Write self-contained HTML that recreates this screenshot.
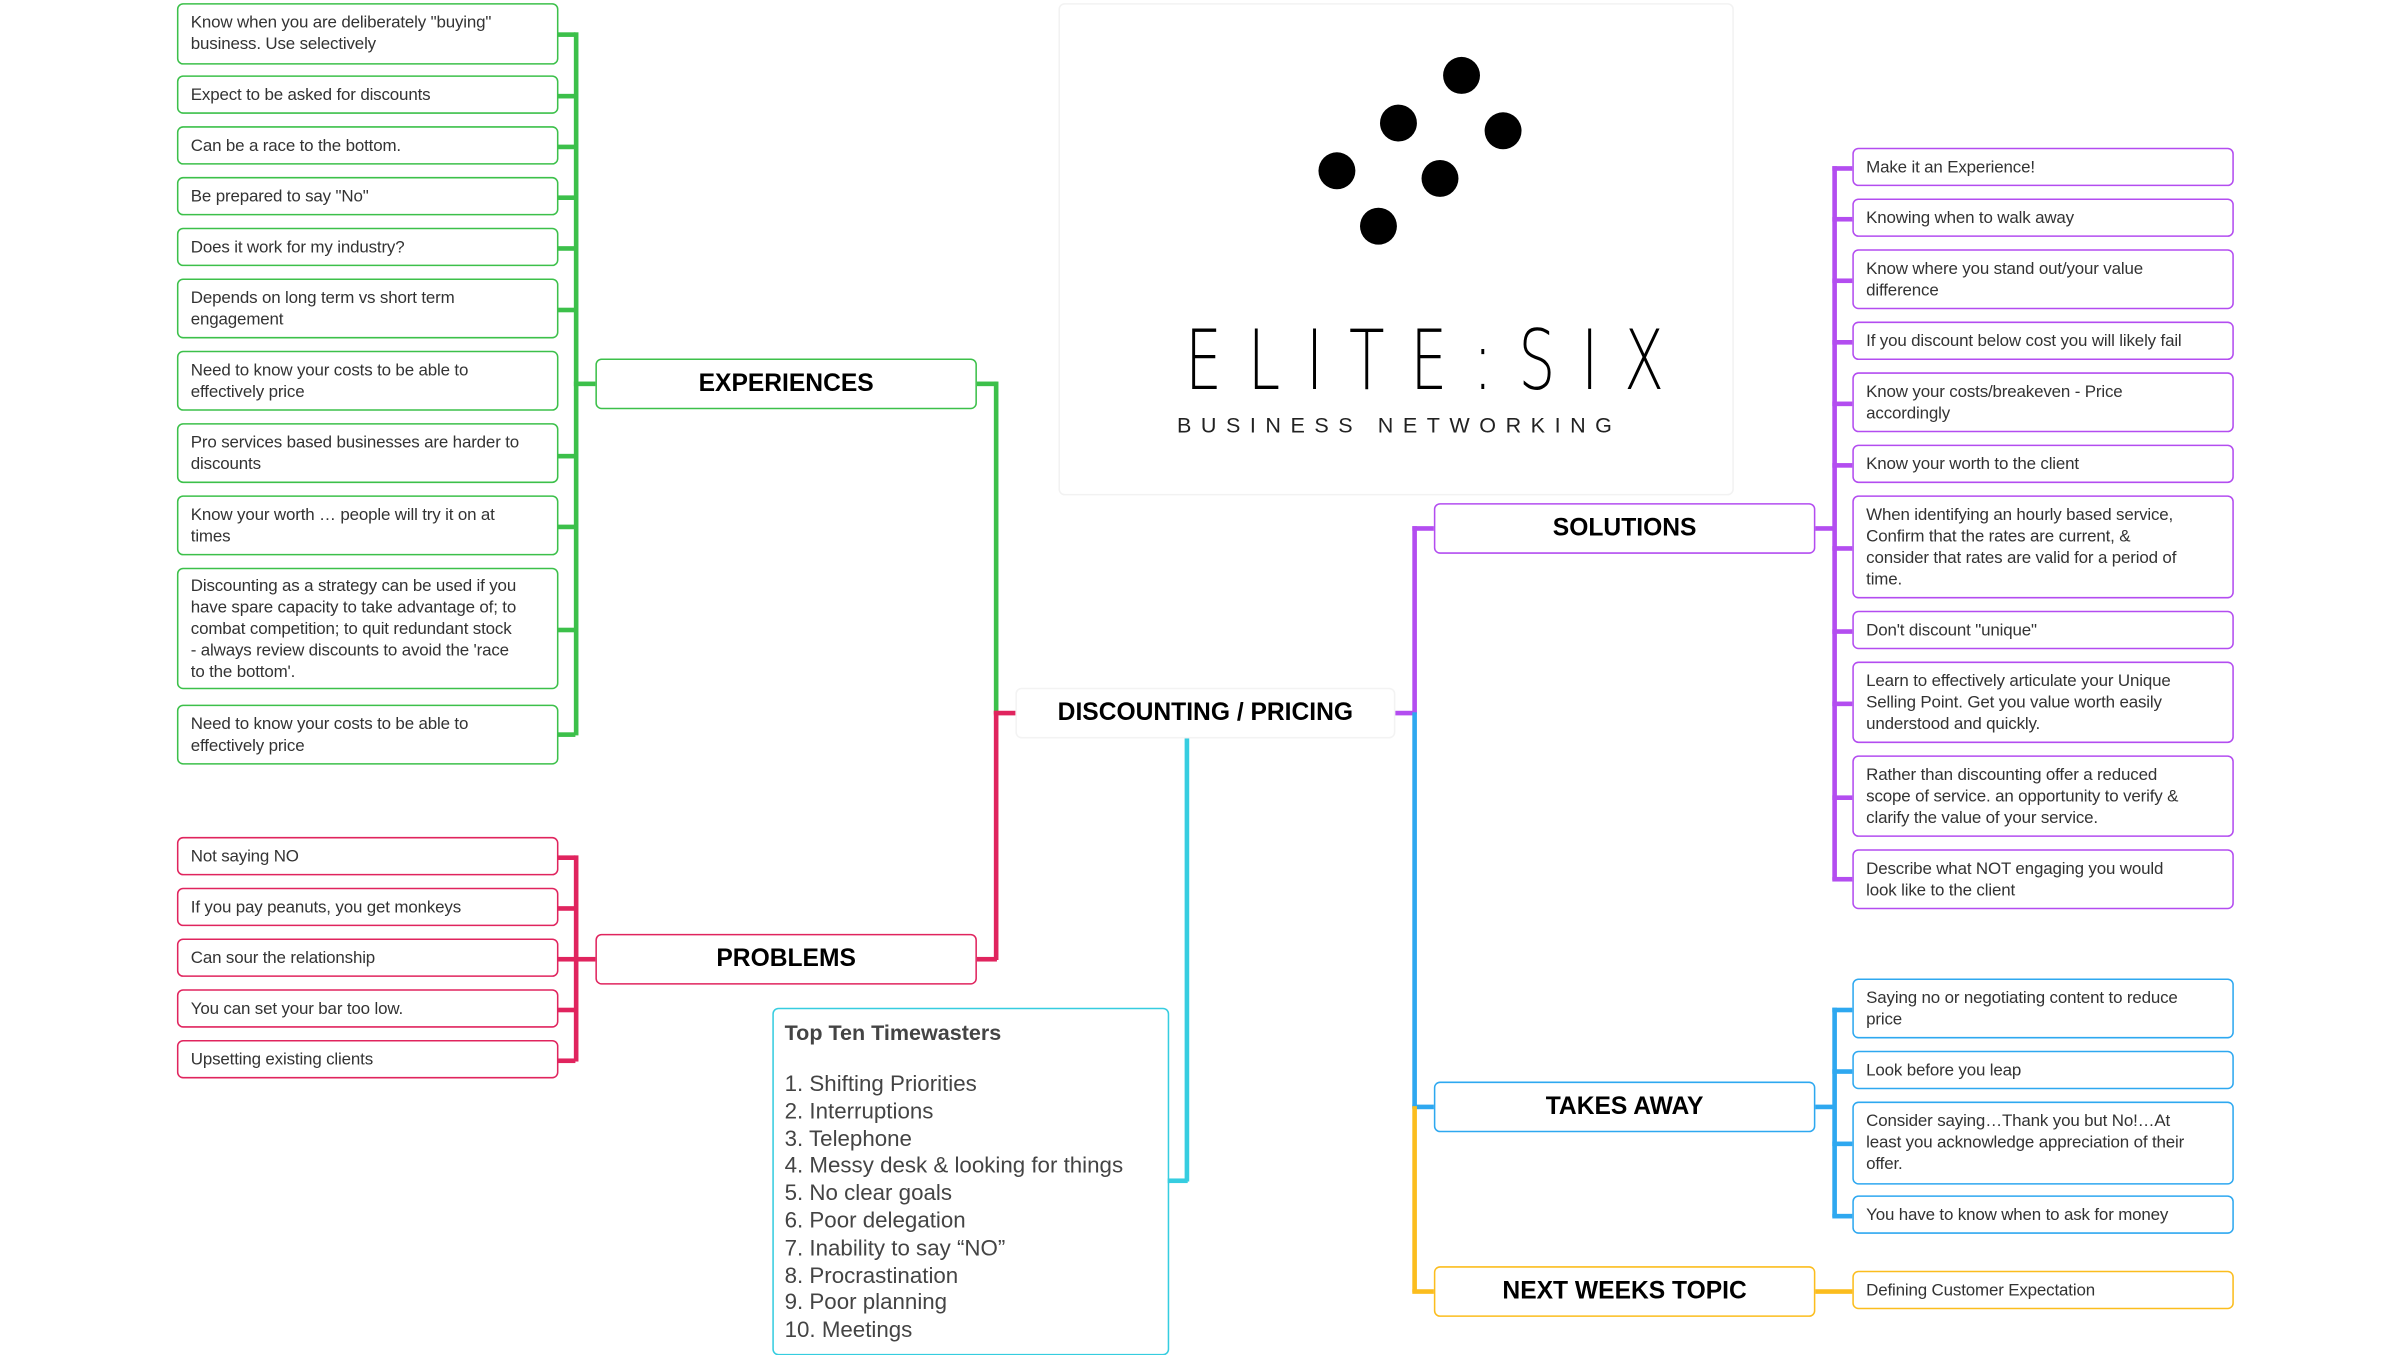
<!DOCTYPE html>
<html><head><meta charset="utf-8"><style>
html,body{margin:0;padding:0;background:#fff;}
body{width:2400px;height:1350px;overflow:hidden;position:relative;}
#c{position:absolute;left:0;top:0;width:1560px;height:878px;transform:scale(1.53846);transform-origin:0 0;font-family:"Liberation Sans",Arial,sans-serif;}
.b{position:absolute;box-sizing:border-box;border:1.5px solid;border-radius:4px;background:#fff;color:#333;font-size:11px;line-height:14px;padding:0 0 0 8px;display:flex;align-items:center;white-space:nowrap;letter-spacing:-0.1px;}
.h{position:absolute;box-sizing:border-box;border:1.5px solid;border-radius:4px;background:#fff;color:#000;font-weight:bold;font-size:16px;display:flex;align-items:center;justify-content:center;white-space:nowrap;}
.l{position:absolute;}
.g{border-color:#3cc04a}.r{border-color:#e0245e}.p{border-color:#b34df0}.bl{border-color:#2ea8f0}.y{border-color:#fbbd1e}.cy{border-color:#36cde0}
.dot{position:absolute;width:24px;height:24px;border-radius:50%;background:#000;}
</style></head><body><div id="c">

<!-- logo -->
<div style="position:absolute;left:688px;top:2px;width:437px;height:318px;border:1px solid #f2f2f2;border-radius:4px;"></div>
<div class="dot" style="left:938px;top:37px"></div>
<div class="dot" style="left:897px;top:68px"></div>
<div class="dot" style="left:965px;top:73px"></div>
<div class="dot" style="left:857px;top:99px"></div>
<div class="dot" style="left:924px;top:104px"></div>
<div class="dot" style="left:884px;top:135px"></div>
<div style="position:absolute;left:688px;width:437px;top:206px;text-align:center;font-size:54px;letter-spacing:24px;color:#000;line-height:58px;transform:scaleX(0.7);transform-origin:center;font-family:'DejaVu Sans','Liberation Sans',sans-serif;font-weight:200;padding-left:24px;box-sizing:border-box;white-space:nowrap;">ELITE:SIX</div>
<div style="position:absolute;left:688px;width:437px;top:268px;text-align:center;font-size:14px;letter-spacing:6.2px;color:#222;padding-left:6px;box-sizing:border-box;">BUSINESS NETWORKING</div>

<!-- center -->
<div class="h" style="left:660px;top:447px;width:247px;height:33px;border-color:#f3f3f3;">DISCOUNTING / PRICING</div>

<!-- experiences connectors -->
<div class="l" style="left:646px;top:248px;width:2.5px;height:216px;background:#3cc04a"></div>
<div class="l" style="left:635px;top:248px;width:13px;height:2.5px;background:#3cc04a"></div>
<div class="l" style="left:646px;top:462px;width:14px;height:2.5px;background:#e0245e"></div>
<div class="l" style="left:646px;top:462px;width:2.5px;height:162px;background:#e0245e"></div>
<div class="l" style="left:635px;top:622px;width:13px;height:2.5px;background:#e0245e"></div>
<div class="h g" style="left:387px;top:233px;width:248px;height:33px;">EXPERIENCES</div>
<div class="h r" style="left:387px;top:607px;width:248px;height:33px;">PROBLEMS</div>

<div class="l" style="left:373px;top:21px;width:2.5px;height:457px;background:#3cc04a"></div>
<div class="l" style="left:373px;top:248px;width:14px;height:2.5px;background:#3cc04a"></div>
<div class="l" style="left:362px;top:21px;width:12px;height:2.5px;background:#3cc04a"></div>
<div class="l" style="left:362px;top:61px;width:12px;height:2.5px;background:#3cc04a"></div>
<div class="l" style="left:362px;top:94px;width:12px;height:2.5px;background:#3cc04a"></div>
<div class="l" style="left:362px;top:127px;width:12px;height:2.5px;background:#3cc04a"></div>
<div class="l" style="left:362px;top:160px;width:12px;height:2.5px;background:#3cc04a"></div>
<div class="l" style="left:362px;top:200px;width:12px;height:2.5px;background:#3cc04a"></div>
<div class="l" style="left:362px;top:295px;width:12px;height:2.5px;background:#3cc04a"></div>
<div class="l" style="left:362px;top:341px;width:12px;height:2.5px;background:#3cc04a"></div>
<div class="l" style="left:362px;top:408px;width:12px;height:2.5px;background:#3cc04a"></div>
<div class="l" style="left:362px;top:476px;width:12px;height:2.5px;background:#3cc04a"></div>

<div class="b g" style="left:115px;top:2px;width:248px;height:40px;">Know when you are deliberately "buying"<br>business. Use selectively</div>
<div class="b g" style="left:115px;top:49px;width:248px;height:25px;">Expect to be asked for discounts</div>
<div class="b g" style="left:115px;top:82px;width:248px;height:25px;">Can be a race to the bottom.</div>
<div class="b g" style="left:115px;top:115px;width:248px;height:25px;">Be prepared to say "No"</div>
<div class="b g" style="left:115px;top:148px;width:248px;height:25px;">Does it work for my industry?</div>
<div class="b g" style="left:115px;top:181px;width:248px;height:39px;">Depends on long term vs short term<br>engagement</div>
<div class="b g" style="left:115px;top:228px;width:248px;height:39px;">Need to know your costs to be able to<br>effectively price</div>
<div class="b g" style="left:115px;top:275px;width:248px;height:39px;">Pro services based businesses are harder to<br>discounts</div>
<div class="b g" style="left:115px;top:322px;width:248px;height:39px;">Know your worth … people will try it on at<br>times</div>
<div class="b g" style="left:115px;top:369px;width:248px;height:79px;">Discounting as a strategy can be used if you<br>have spare capacity to take advantage of; to<br>combat competition; to quit redundant stock<br>- always review discounts to avoid the 'race<br>to the bottom'.</div>
<div class="b g" style="left:115px;top:458px;width:248px;height:39px;">Need to know your costs to be able to<br>effectively price</div>

<!-- problems -->
<div class="l" style="left:373px;top:556px;width:2.5px;height:134px;background:#e0245e"></div>
<div class="l" style="left:373px;top:622px;width:14px;height:2.5px;background:#e0245e"></div>
<div class="l" style="left:362px;top:556px;width:12px;height:2.5px;background:#e0245e"></div>
<div class="l" style="left:362px;top:589px;width:12px;height:2.5px;background:#e0245e"></div>
<div class="l" style="left:362px;top:622px;width:12px;height:2.5px;background:#e0245e"></div>
<div class="l" style="left:362px;top:655px;width:12px;height:2.5px;background:#e0245e"></div>
<div class="l" style="left:362px;top:688px;width:12px;height:2.5px;background:#e0245e"></div>
<div class="b r" style="left:115px;top:544px;width:248px;height:25px;">Not saying NO</div>
<div class="b r" style="left:115px;top:577px;width:248px;height:25px;">If you pay peanuts, you get monkeys</div>
<div class="b r" style="left:115px;top:610px;width:248px;height:25px;">Can sour the relationship</div>
<div class="b r" style="left:115px;top:643px;width:248px;height:25px;">You can set your bar too low.</div>
<div class="b r" style="left:115px;top:676px;width:248px;height:25px;">Upsetting existing clients</div>

<!-- top ten -->
<div class="l" style="left:770px;top:480px;width:2.5px;height:288px;background:#36cde0"></div>
<div class="l" style="left:759px;top:766px;width:13px;height:2.5px;background:#36cde0"></div>
<div style="position:absolute;left:502px;top:655px;width:258px;height:226px;box-sizing:border-box;border:1.5px solid #36cde0;border-radius:4px;color:#444;padding:6px 0 0 7px;">
<div style="font-weight:bold;font-size:14px;line-height:18px;">Top Ten Timewasters</div>
<div style="font-size:14.5px;line-height:17.8px;margin-top:17px;white-space:nowrap;">1. Shifting Priorities<br>2. Interruptions<br>3. Telephone<br>4. Messy desk &amp; looking for things<br>5. No clear goals<br>6. Poor delegation<br>7. Inability to say “NO”<br>8. Procrastination<br>9. Poor planning<br>10. Meetings</div>
</div>

<!-- right side trunk -->
<div class="l" style="left:907px;top:462px;width:13px;height:2.5px;background:#b34df0"></div>
<div class="l" style="left:918px;top:342px;width:2.5px;height:122px;background:#b34df0"></div>
<div class="l" style="left:918px;top:342px;width:14px;height:2.5px;background:#b34df0"></div>
<div class="l" style="left:918px;top:463px;width:2.5px;height:257px;background:#2ea8f0"></div>
<div class="l" style="left:918px;top:718px;width:14px;height:2.5px;background:#2ea8f0"></div>
<div class="l" style="left:918px;top:719px;width:2.5px;height:121px;background:#fbbd1e"></div>
<div class="l" style="left:918px;top:838px;width:14px;height:2.5px;background:#fbbd1e"></div>

<div class="h p" style="left:932px;top:327px;width:248px;height:33px;">SOLUTIONS</div>
<div class="h bl" style="left:932px;top:703px;width:248px;height:33px;">TAKES AWAY</div>
<div class="h y" style="left:932px;top:823px;width:248px;height:33px;">NEXT WEEKS TOPIC</div>

<!-- solutions -->
<div class="l" style="left:1180px;top:342px;width:12px;height:2.5px;background:#b34df0"></div>
<div class="l" style="left:1191px;top:108px;width:2.5px;height:464px;background:#b34df0"></div>
<div class="l" style="left:1191px;top:108px;width:13px;height:2.5px;background:#b34df0"></div>
<div class="l" style="left:1191px;top:141px;width:13px;height:2.5px;background:#b34df0"></div>
<div class="l" style="left:1191px;top:181px;width:13px;height:2.5px;background:#b34df0"></div>
<div class="l" style="left:1191px;top:221px;width:13px;height:2.5px;background:#b34df0"></div>
<div class="l" style="left:1191px;top:261px;width:13px;height:2.5px;background:#b34df0"></div>
<div class="l" style="left:1191px;top:301px;width:13px;height:2.5px;background:#b34df0"></div>
<div class="l" style="left:1191px;top:355px;width:13px;height:2.5px;background:#b34df0"></div>
<div class="l" style="left:1191px;top:409px;width:13px;height:2.5px;background:#b34df0"></div>
<div class="l" style="left:1191px;top:456px;width:13px;height:2.5px;background:#b34df0"></div>
<div class="l" style="left:1191px;top:517px;width:13px;height:2.5px;background:#b34df0"></div>
<div class="l" style="left:1191px;top:570px;width:13px;height:2.5px;background:#b34df0"></div>

<div class="b p" style="left:1204px;top:96px;width:248px;height:25px;">Make it an Experience!</div>
<div class="b p" style="left:1204px;top:129px;width:248px;height:25px;">Knowing when to walk away</div>
<div class="b p" style="left:1204px;top:162px;width:248px;height:39px;">Know where you stand out/your value<br>difference</div>
<div class="b p" style="left:1204px;top:209px;width:248px;height:25px;">If you discount below cost you will likely fail</div>
<div class="b p" style="left:1204px;top:242px;width:248px;height:39px;">Know your costs/breakeven - Price<br>accordingly</div>
<div class="b p" style="left:1204px;top:289px;width:248px;height:25px;">Know your worth to the client</div>
<div class="b p" style="left:1204px;top:322px;width:248px;height:67px;">When identifying an hourly based service,<br>Confirm that the rates are current, &amp;<br>consider that rates are valid for a period of<br>time.</div>
<div class="b p" style="left:1204px;top:397px;width:248px;height:25px;">Don't discount "unique"</div>
<div class="b p" style="left:1204px;top:430px;width:248px;height:53px;">Learn to effectively articulate your Unique<br>Selling Point. Get you value worth easily<br>understood and quickly.</div>
<div class="b p" style="left:1204px;top:491px;width:248px;height:53px;">Rather than discounting offer a reduced<br>scope of service. an opportunity to verify &amp;<br>clarify the value of your service.</div>
<div class="b p" style="left:1204px;top:552px;width:248px;height:39px;">Describe what NOT engaging you would<br>look like to the client</div>

<!-- takes away -->
<div class="l" style="left:1180px;top:718px;width:12px;height:2.5px;background:#2ea8f0"></div>
<div class="l" style="left:1191px;top:655px;width:2.5px;height:136px;background:#2ea8f0"></div>
<div class="l" style="left:1191px;top:655px;width:13px;height:2.5px;background:#2ea8f0"></div>
<div class="l" style="left:1191px;top:695px;width:13px;height:2.5px;background:#2ea8f0"></div>
<div class="l" style="left:1191px;top:742px;width:13px;height:2.5px;background:#2ea8f0"></div>
<div class="l" style="left:1191px;top:789px;width:13px;height:2.5px;background:#2ea8f0"></div>
<div class="b bl" style="left:1204px;top:636px;width:248px;height:39px;">Saying no or negotiating content to reduce<br>price</div>
<div class="b bl" style="left:1204px;top:683px;width:248px;height:25px;">Look before you leap</div>
<div class="b bl" style="left:1204px;top:716px;width:248px;height:54px;">Consider saying…Thank you but No!…At<br>least you acknowledge appreciation of their<br>offer.</div>
<div class="b bl" style="left:1204px;top:777px;width:248px;height:25px;">You have to know when to ask for money</div>

<!-- next weeks -->
<div class="l" style="left:1180px;top:838px;width:24px;height:2.5px;background:#fbbd1e"></div>
<div class="b y" style="left:1204px;top:826px;width:248px;height:25px;">Defining Customer Expectation</div>

</div></body></html>
